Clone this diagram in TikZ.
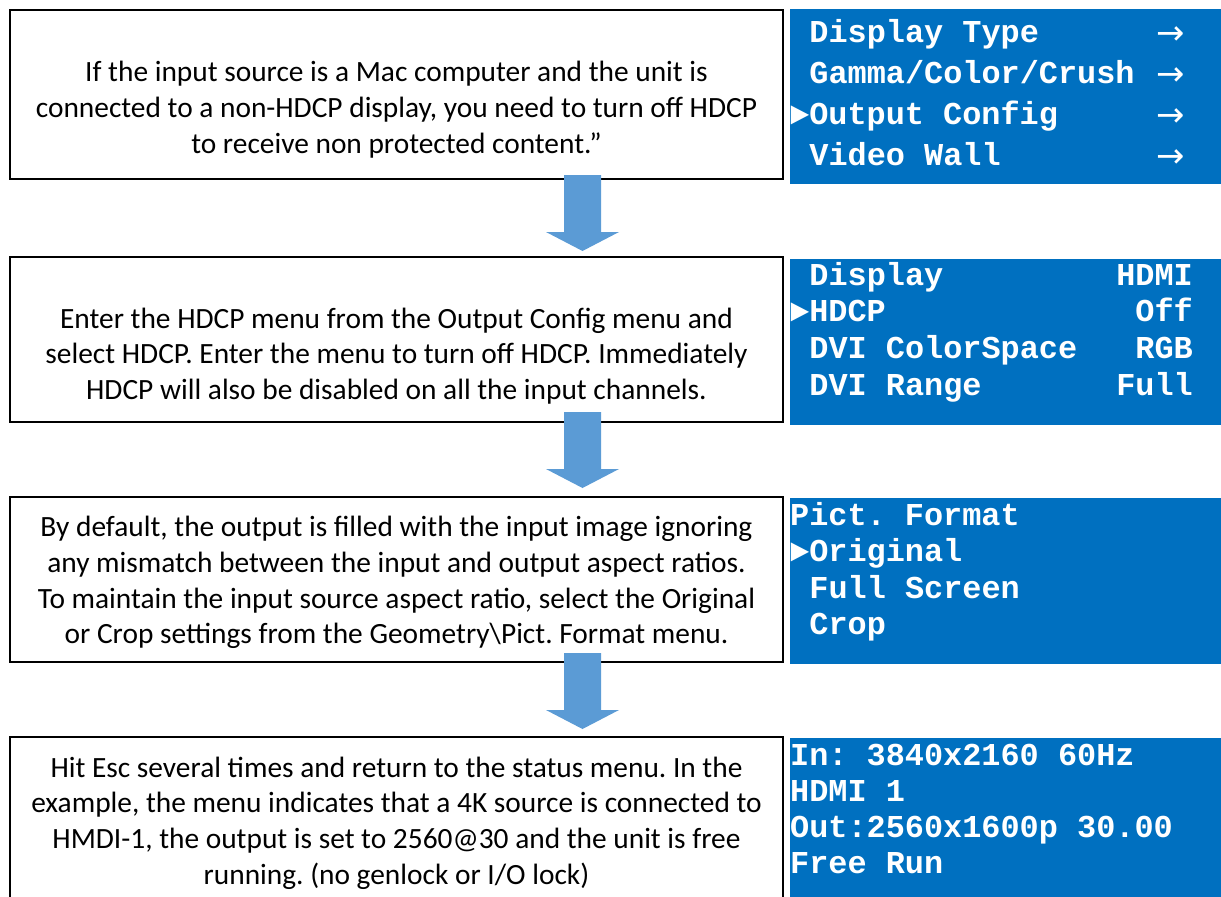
\documentclass[tikz,border=0pt]{standalone}
\usepackage{fontspec}
\setmainfont{Carlito}
\newfontfamily\menufont{Liberation Mono}
\newfontfamily\arrowfont{DejaVu Sans}
\frenchspacing
\definecolor{panelblue}{HTML}{0070C0}
\definecolor{arrowblue}{HTML}{5B9BD5}
\tikzset{
  stepbox/.style={draw=black, line width=1.7bp, fill=white, inner sep=0, outer sep=0, anchor=north west},
  panel/.style={fill=panelblue, draw=none, inner sep=0, outer sep=0, anchor=north west},
  bodytext/.style={font=\frenchspacing\fontsize{29.5}{35.8}\selectfont, align=center, inner sep=0, text=black},
  menuline/.style={font=\frenchspacing\menufont\bfseries\fontsize{32}{32}\selectfont, text=white, inner sep=0, anchor=base west},
  menuval/.style={menuline, anchor=base east},
  menuarrow/.style={font=\arrowfont\fontsize{34}{34}\selectfont, text=white, inner sep=0, anchor=base west},
  flowarrow/.style={fill=arrowblue, draw=none}
}
\begin{document}
\begin{tikzpicture}[x=1bp,y=-1bp]
\useasboundingbox (0,0) rectangle (1221,897);
\clip (0,0) rectangle (1221,897);
\fill[white] (0,0) rectangle (1221,897);

% step boxes
\node[stepbox, minimum width=773bp, minimum height=169bp] (b1) at (10,10) {};
\node[stepbox, minimum width=773bp, minimum height=165bp] (b2) at (10,257) {};
\node[stepbox, minimum width=773bp, minimum height=165bp] (b3) at (10,497) {};
\node[stepbox, minimum width=773bp, minimum height=180bp] (b4) at (10,737) {};

% texts
\node[bodytext] (t1) at (396.5,109.5) {If the input source is a Mac computer and the unit is\\connected to a non-HDCP display, you need to turn off HDCP\\to receive non protected content.”};
\node[bodytext] (t2) at (396.5,356) {Enter the HDCP menu from the Output Config menu and\\select HDCP. Enter the menu to turn off HDCP. Immediately\\HDCP will also be disabled on all the input channels.};
\node[bodytext] (t3) at (396.5,582.5) {By default, the output is filled with the input image ignoring\\any mismatch between the input and output aspect ratios.\\To maintain the input source aspect ratio, select the Original\\or Crop settings from the Geometry\textbackslash Pict. Format menu.};
\node[bodytext] (t4) at (396.5,823) {Hit Esc several times and return to the status menu. In the\\example, the menu indicates that a 4K source is connected to\\HMDI-1, the output is set to 2560@30 and the unit is free\\running. (no genlock or I/O lock)};

% flow arrows
\foreach \t in {175,412,653} {
  \fill[flowarrow] (564,\t) -- ++(37,0) -- ++(0,57) -- ++(18,0) -- ++(-36.5,19) -- ++(-36.5,-19) -- ++(18,0) -- cycle;
}

% panels
\node[panel, minimum width=440bp, minimum height=175bp] (p1) at (790,9) {};
\node[panel, minimum width=440bp, minimum height=166bp] (p2) at (790,259) {};
\node[panel, minimum width=440bp, minimum height=166bp] (p3) at (790,498) {};
\node[panel, minimum width=440bp, minimum height=170bp] (p4) at (790,738) {};

% panel 1
\node[menuline] (m11) at (809.2,42) {Display Type};
\node[menuline] (m12) at (809.2,83) {Gamma/Color/Crush};
\node[menuline] (m13) at (790,124) {►Output Config};
\node[menuline] (m14) at (809.2,165) {Video Wall};
\foreach \y [count=\i] in {44,85,126,167} {
  \node[menuarrow] (r1\i) at (1156,\y) {→};
}

% panel 2
\node[menuline] (m21) at (809.2,285) {Display};
\node[menuline] (m22) at (790,321.7) {►HDCP};
\node[menuline] (m23) at (809.2,358.3) {DVI ColorSpace};
\node[menuline] (m24) at (809.2,395) {DVI Range};
\node[menuval] (v21) at (1193,285) {HDMI};
\node[menuval] (v22) at (1193,321.7) {Off};
\node[menuval] (v23) at (1193,358.3) {RGB};
\node[menuval] (v24) at (1193,395) {Full};

% panel 3
\node[menuline] (m31) at (790,525) {Pict. Format};
\node[menuline] (m32) at (790,561.5) {►Original};
\node[menuline] (m33) at (809.2,598) {Full Screen};
\node[menuline] (m34) at (809.2,634.5) {Crop};

% panel 4
\node[menuline] (m41) at (790,765) {In: 3840x2160 60Hz};
\node[menuline] (m42) at (790,801) {HDMI 1};
\node[menuline] (m43) at (790,837) {Out:2560x1600p 30.00};
\node[menuline] (m44) at (790,873) {Free Run};
\end{tikzpicture}
\end{document}
